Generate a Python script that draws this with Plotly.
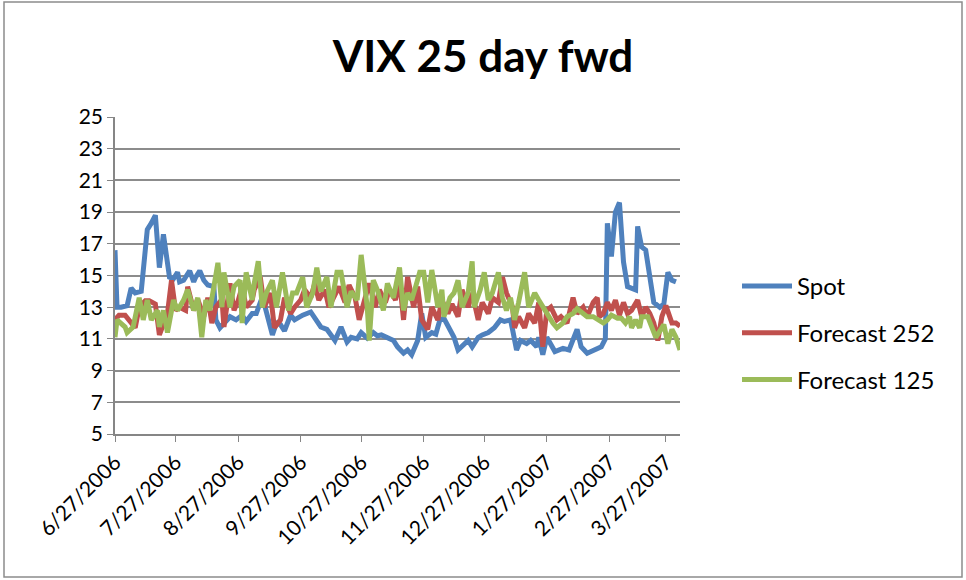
import pandas as pd
import plotly.graph_objects as go

START = "2006-06-27"

# days since START, and VIX values
spot_day = [0, 1, 3, 6, 8, 10, 13, 16, 18, 20, 22, 24, 26, 27, 29, 31, 32, 34, 37, 39,
            40, 42, 44, 46, 49, 50, 52, 54, 57, 60, 63, 65, 68, 70, 72, 74, 76, 78, 80, 82,
            84, 87, 89, 93, 97, 100, 102, 105, 109, 112, 115, 117, 120, 122, 125, 128, 130, 132, 135, 138,
            140, 143, 145, 147, 150, 152, 154, 157, 159, 161, 163, 166, 168, 170, 172, 175, 177, 180, 182, 185,
            188, 191, 193, 196, 197, 199, 201, 204, 206, 209, 210, 212, 214, 218, 222, 225, 229, 231, 234, 237,
            241, 243, 244, 246, 248, 250, 252, 254, 258, 259, 261, 263, 265, 267, 270, 272, 274, 276, 278]
spot = [16.6, 13.0, 13.0, 13.1, 14.2, 13.9, 14.0, 17.9, 18.3, 18.8, 15.5, 17.6, 15.8, 14.9, 14.8, 15.2, 14.6, 14.7, 15.3, 14.6,
        14.9, 15.3, 14.7, 14.4, 14.3, 12.2, 11.7, 12.0, 12.4, 12.2, 12.5, 12.1, 12.6, 12.6, 13.3, 13.2, 12.2, 11.25, 12.0, 11.9,
        11.5, 12.5, 12.2, 12.5, 12.7, 12.2, 11.75, 11.6, 10.9, 11.75, 10.8, 11.1, 11.0, 11.4, 11.05, 11.4, 11.2, 11.25, 11.05, 10.9,
        10.5, 10.1, 10.3, 10.0, 10.9, 12.6, 11.1, 11.4, 11.3, 12.2, 12.3, 11.6, 11.1, 10.3, 10.5, 10.9, 10.5, 11.1, 11.25, 11.4,
        11.7, 12.2, 12.1, 12.2, 11.6, 10.3, 10.9, 10.7, 10.9, 10.5, 11.1, 10.0, 11.1, 10.2, 10.4, 10.3, 11.6, 10.5, 10.1, 10.3,
        10.5, 11.0, 18.3, 16.2, 19.0, 19.6, 15.85, 14.3, 14.1, 18.1, 16.8, 16.6, 14.8, 13.3, 13.0, 13.2, 15.2, 14.7, 14.6]

f252_day = [0, 2, 5, 7, 10, 12, 15, 17, 20, 22, 24, 26, 28, 30, 32, 35, 36, 39, 41, 44,
            46, 48, 50, 53, 54, 57, 59, 61, 63, 65, 68, 69, 72, 74, 77, 79, 82, 84, 87, 89,
            92, 94, 97, 99, 101, 104, 106, 109, 111, 114, 116, 119, 121, 124, 126, 129, 131, 134, 136, 139,
            141, 143, 145, 148, 150, 152, 155, 157, 160, 162, 165, 167, 170, 172, 175, 177, 180, 182, 185, 187,
            190, 192, 194, 197, 198, 200, 203, 205, 208, 210, 212, 214, 216, 219, 221, 224, 227, 229, 232, 234,
            237, 239, 240, 242, 244, 246, 248, 250, 252, 254, 256, 259, 261, 263, 265, 267, 269, 271, 273, 276,
            278, 280]
f252 = [12.2, 12.5, 12.5, 12.2, 11.7, 13.0, 13.4, 13.4, 13.2, 11.25, 12.0, 12.6, 14.7, 12.8, 13.0, 12.8, 14.3, 12.8, 13.5, 12.4,
        13.6, 12.0, 13.0, 13.5, 11.75, 14.5, 12.8, 13.4, 14.3, 13.0, 13.45, 14.1, 14.9, 13.0, 13.9, 11.7, 12.2, 13.6, 12.6, 13.0,
        13.45, 14.1, 13.6, 14.5, 13.45, 14.1, 13.0, 13.9, 14.3, 13.3, 14.4, 13.6, 12.2, 13.6, 14.5, 13.0, 14.1, 13.3, 14.1, 13.45,
        14.7, 12.2, 14.9, 13.0, 14.3, 12.2, 11.6, 13.0, 12.2, 13.45, 12.6, 13.2, 12.4, 14.1, 13.0, 13.9, 12.2, 13.3, 12.6, 13.6,
        13.3, 14.9, 13.9, 13.0, 11.7, 12.4, 11.7, 12.6, 12.0, 13.3, 10.5, 12.8, 13.0, 12.2, 12.4, 12.0, 13.6, 12.6, 13.0, 12.4,
        13.3, 13.6, 12.4, 12.6, 13.3, 12.8, 13.45, 12.5, 13.3, 12.6, 12.8, 13.45, 12.4, 13.0, 12.6, 12.0, 10.9, 12.4, 13.1, 12.0,
        12.0, 11.8]

f125_day = [0, 1, 5, 6, 9, 11, 12, 14, 16, 18, 21, 22, 24, 26, 29, 31, 34, 36, 39, 41,
            43, 45, 47, 49, 51, 53, 54, 57, 59, 62, 63, 65, 68, 69, 71, 73, 75, 78, 80, 83,
            86, 88, 90, 93, 95, 98, 100, 102, 105, 107, 110, 112, 115, 117, 120, 122, 125, 126, 128, 130,
            133, 135, 138, 141, 143, 145, 147, 149, 151, 153, 155, 157, 160, 162, 163, 166, 168, 170, 172, 175,
            177, 178, 181, 183, 185, 187, 190, 192, 194, 196, 198, 200, 203, 205, 208, 210, 212, 214, 217, 219,
            222, 224, 227, 229, 232, 234, 237, 239, 242, 244, 246, 249, 251, 253, 255, 256, 258, 260, 261, 264,
            266, 268, 271, 272, 274, 276, 278, 280]
f125 = [11.1, 12.2, 11.75, 11.4, 11.75, 13.0, 13.6, 12.2, 13.45, 12.2, 12.8, 11.75, 12.8, 11.4, 13.45, 12.8, 13.45, 14.1, 12.8, 13.6,
        11.1, 13.45, 12.8, 14.3, 15.8, 13.0, 15.2, 13.0, 14.3, 14.7, 12.0, 15.2, 13.45, 14.5, 15.9, 13.0, 13.9, 14.7, 13.0, 15.2,
        12.8, 13.9, 13.9, 14.9, 13.0, 13.9, 15.5, 14.0, 14.9, 13.0, 15.2, 15.2, 13.0, 14.0, 13.45, 16.3, 13.0, 10.9, 14.7, 14.1,
        12.8, 14.5, 13.6, 15.5, 12.8, 13.9, 13.45, 14.3, 15.2, 15.2, 13.3, 15.35, 13.0, 14.1, 12.4, 13.6, 13.9, 14.7, 13.0, 13.9,
        15.9, 13.0, 14.1, 15.2, 13.45, 13.9, 15.2, 13.6, 12.8, 13.6, 12.2, 13.3, 15.2, 13.0, 13.9, 13.45, 13.0, 12.6, 12.0, 11.7,
        12.0, 12.4, 12.6, 12.9, 12.6, 12.4, 12.4, 12.2, 12.0, 12.2, 12.5, 12.3, 12.3, 12.0, 12.4, 11.7, 12.2, 11.7, 12.4, 12.4,
        11.7, 11.1, 11.7, 11.9, 10.7, 11.6, 11.1, 10.3]

tick_dates = ["2006-06-27", "2006-07-27", "2006-08-27", "2006-09-27", "2006-10-27",
              "2006-11-27", "2006-12-27", "2007-01-27", "2007-02-27", "2007-03-27"]
tick_labels = ["6/27/2006", "7/27/2006", "8/27/2006", "9/27/2006", "10/27/2006",
               "11/27/2006", "12/27/2006", "1/27/2007", "2/27/2007", "3/27/2007"]
y_ticks = list(range(5, 26, 2))

start = pd.Timestamp(START)
def to_dates(days):
    return [start + pd.Timedelta(days=d) for d in days]

FONT = "Lato, 'Open Sans', sans-serif"
W, H = 966, 580
ML, MR, MT, MB = 115, 286, 117, 146

fig = go.Figure()
series = [("Spot", spot_day, spot, "#4F81BD"),
          ("Forecast 252", f252_day, f252, "#C0504D"),
          ("Forecast 125", f125_day, f125, "#9BBB59")]
for name, d, v, c in series:
    fig.add_trace(go.Scatter(x=to_dates(d), y=v, mode="lines", name=name,
                             legendgroup=name,
                             line=dict(color=c, width=5, shape="linear")))

pw = W - ML - MR
ph = H - MT - MB
fig.update_layout(
    width=W, height=H,
    margin=dict(l=ML, r=MR, t=MT, b=MB, pad=0, autoexpand=False),
    paper_bgcolor="white", plot_bgcolor="white",
    font=dict(family=FONT, size=20, color="black"),
    title=dict(text="<b>VIX 25 day fwd</b>", x=483 / W, xref="container", xanchor="center",
               y=1 - 57 / H, yref="container", yanchor="middle",
               font=dict(family=FONT, size=44, color="black")),
    showlegend=True,
    legend=dict(x=(737 - ML) / pw, xanchor="left", y=1 - (264 - MT) / ph, yanchor="top",
                font=dict(family=FONT, size=24, color="black"),
                tracegroupgap=12.5, itemwidth=50, bgcolor="rgba(0,0,0,0)"),
    xaxis=dict(type="date", range=["2006-06-27", "2007-04-03"],
               tickmode="array", tickvals=tick_dates, ticktext=tick_labels,
               tickangle=-45, ticks="outside", ticklen=6, tickcolor="#868686",
               showgrid=False, showline=True, linecolor="#868686", linewidth=1.5,
               tickfont=dict(family=FONT, size=21, color="black"), zeroline=False,
               automargin=False),
    yaxis=dict(range=[5, 25], tickmode="array", tickvals=y_ticks,
               ticks="outside", ticklen=6, tickcolor="#868686",
               showgrid=True, gridcolor="#8C8C8C", gridwidth=1.5,
               showline=True, linecolor="#868686", linewidth=1.5,
               tickfont=dict(family=FONT, size=21, color="black"), zeroline=False,
               automargin=False),
)
# chart-area border
fig.add_shape(type="rect", xref="paper", yref="paper",
              x0=(4 - ML) / pw, x1=(W - 4 - ML) / pw,
              y0=-(H - 3 - MT - ph) / ph, y1=1 + (MT - 2) / ph,
              line=dict(color="#8C8C8C", width=1.5), fillcolor="rgba(0,0,0,0)", layer="below")

fig.write_html("out.html", config={"displayModeBar": False},
               post_script="document.body.style.margin='0';document.body.style.overflow='hidden';")
